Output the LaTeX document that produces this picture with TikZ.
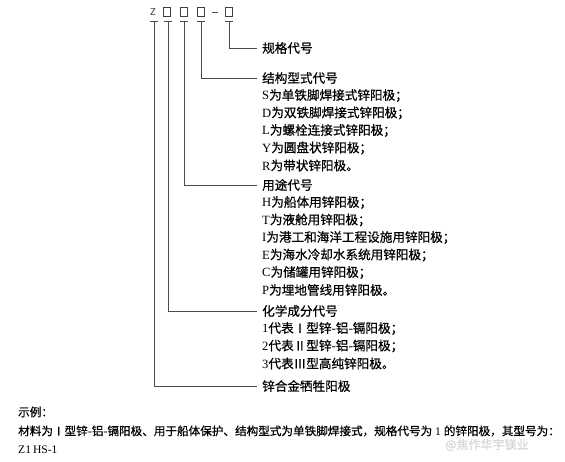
\documentclass[tikz,border=0pt]{standalone}
\usepackage{fontspec}
\setmainfont{Liberation Serif}
\newfontfamily\cjk[FakeBold=0.6]{Noto Sans CJK SC}
\begin{document}
\begin{tikzpicture}[x=1pt,y=-1pt,
  conn/.style={draw=black!70, line width=0.8pt},
  lab/.style={anchor=west, inner sep=0pt, font=\fontsize{12.6}{14}\selectfont, text=black},
  foot/.style={anchor=west, inner sep=0pt, font=\fontsize{11.6}{13}\selectfont, text=black},
  sq/.style={draw=black!75, line width=0.6pt, minimum width=7.5pt, minimum height=8.5pt, inner sep=0pt}]
\useasboundingbox (0,0) rectangle (565,461);
% top code
\node[inner sep=0pt, font=\fontsize{10}{12}\selectfont\sffamily, text=black!80] (cZ) at (153,12) {Z};
\node[sq] (b1) at (167,12) {};
\node[sq] (b2) at (184,12) {};
\node[sq] (b3) at (201,12) {};
\node[inner sep=0pt] (dsh) at (215,12) {};
\draw[conn, line width=0.6pt] ([xshift=-3pt]dsh.center) -- ([xshift=3pt]dsh.center);
\node[sq] (b4) at (229,12) {};
% tick tops
\coordinate (tZ) at (154,21);
\coordinate (t1) at (168,21);
\coordinate (t2) at (184,21);
\coordinate (t3) at (201,21);
\coordinate (t4) at (229,21);
\foreach \c in {tZ,t1,t2,t3,t4}
  \draw[conn] ([xshift=-4pt]\c) -- ([xshift=4pt]\c);
% labels
\node[lab] (spec) at (262,48) {\cjk 规格代号};
\node[lab] (struct) at (262,78) {\cjk 结构型式代号};
\node[lab] (s1) at (262,95.5) {S{\cjk 为单铁脚焊接式锌阳极；}};
\node[lab] (s2) at (262,113) {D{\cjk 为双铁脚焊接式锌阳极；}};
\node[lab] (s3) at (262,130.5) {L{\cjk 为螺栓连接式锌阳极；}};
\node[lab] (s4) at (262,148) {Y{\cjk 为圆盘状锌阳极；}};
\node[lab] (s5) at (262,165.5) {R{\cjk 为带状锌阳极。}};
\node[lab] (use) at (262,185) {\cjk 用途代号};
\node[lab] (u1) at (262,202.5) {H{\cjk 为船体用锌阳极；}};
\node[lab] (u2) at (262,220) {T{\cjk 为液舱用锌阳极；}};
\node[lab] (u3) at (262,237.5) {I{\cjk 为港工和海洋工程设施用锌阳极；}};
\node[lab] (u4) at (262,255) {E{\cjk 为海水冷却水系统用锌阳极；}};
\node[lab] (u5) at (262,272.5) {C{\cjk 为储罐用锌阳极；}};
\node[lab] (u6) at (262,290) {P{\cjk 为埋地管线用锌阳极。}};
\node[lab] (chem) at (262,311) {\cjk 化学成分代号};
\node[lab] (c1) at (262,328.5) {1{\cjk 代表Ⅰ型锌-铝-镉阳极；}};
\node[lab] (c2) at (262,346) {2{\cjk 代表Ⅱ型锌-铝-镉阳极；}};
\node[lab] (c3) at (262,363.5) {3{\cjk 代表Ⅲ型高纯锌阳极。}};
\node[lab] (mat) at (262,386) {\cjk 锌合金牺牲阳极};
% connectors
\draw[conn] (t4) |- ([xshift=-5pt]spec.west);
\draw[conn] (t3) |- ([xshift=-5pt]struct.west);
\draw[conn] (t2) |- ([xshift=-5pt]use.west);
\draw[conn] (t1) |- ([xshift=-5pt]chem.west);
\draw[conn] (tZ) |- ([xshift=-5pt]mat.west);
% example
\node[foot] (ex) at (18,412) {\cjk 示例：};
\node[foot] (exl) at (18,431) {\cjk 材料为Ⅰ型锌-铝-镉阳极、用于船体保护、结构型式为单铁脚焊接式，规格代号为{\rmfamily\ 1 }的锌阳极，其型号为：};
\node[foot] (exc) at (18,450) {Z1\,HS-1};
% watermark
\node[anchor=west, inner sep=0pt, font=\fontsize{12}{14}\selectfont, text=black!16] (wm) at (445,445) {\cjk @焦作华宇镁业};
\end{tikzpicture}
\end{document}
